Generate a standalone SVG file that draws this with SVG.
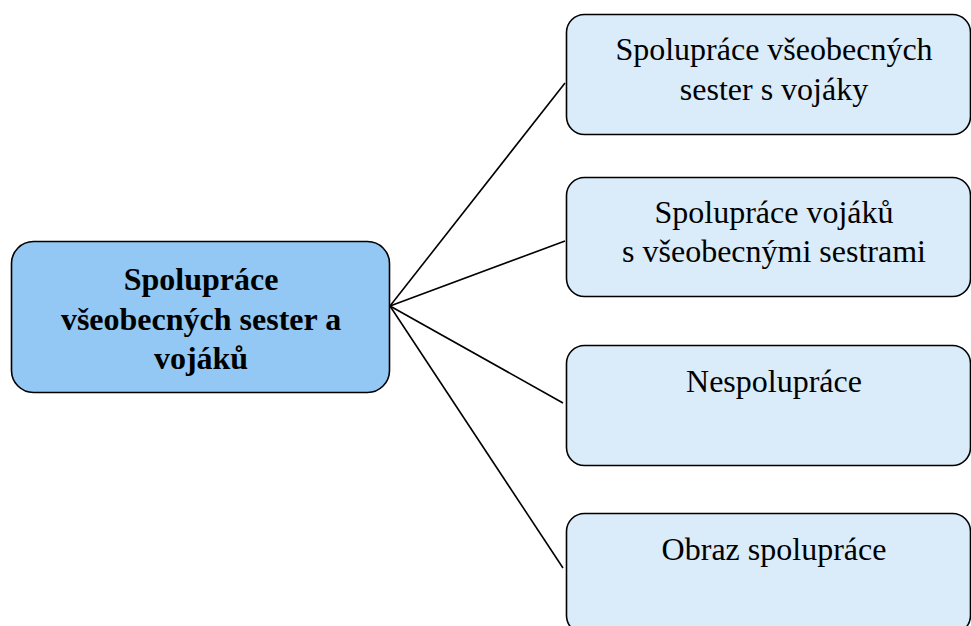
<svg xmlns="http://www.w3.org/2000/svg" width="971" height="626" viewBox="0 0 971 626">
<style>
.box{stroke:#000;stroke-width:1.6}
.main{fill:#92C8F3}
.sub{fill:#DAEBF9}
text{font-family:"Liberation Serif","Times New Roman",serif;font-size:32px;fill:#000;text-anchor:middle}
.b{font-weight:bold}
.con{stroke:#000;stroke-width:1.6;fill:none}
</style>
<rect width="971" height="626" fill="#fff"/>
<g id="connectors">
<line class="con" x1="390" y1="306" x2="565" y2="83"/>
<line class="con" x1="390" y1="306" x2="565" y2="241"/>
<line class="con" x1="390" y1="306" x2="563" y2="403"/>
<line class="con" x1="390" y1="306" x2="563" y2="568"/>
</g>
<g id="center">
<rect class="box main" x="11.5" y="241.5" width="378" height="151" rx="22"/>
<text class="b" x="201" y="290">Spolupráce</text>
<text class="b" x="201" y="330">všeobecných sester a</text>
<text class="b" x="201" y="369">vojáků</text>
</g>
<g id="n1">
<rect class="box sub" x="566.5" y="14.5" width="404" height="120" rx="18"/>
<text x="774" y="60">Spolupráce všeobecných</text>
<text x="774" y="100">sester s vojáky</text>
</g>
<g id="n2">
<rect class="box sub" x="566.5" y="177.5" width="404" height="119" rx="18"/>
<text x="774" y="223">Spolupráce vojáků</text>
<text x="774" y="262">s všeobecnými sestrami</text>
</g>
<g id="n3">
<rect class="box sub" x="566.5" y="345.5" width="404" height="120" rx="18"/>
<text x="774" y="392">Nespolupráce</text>
</g>
<g id="n4">
<rect class="box sub" x="566.5" y="513.5" width="404" height="120" rx="18"/>
<text x="774" y="560">Obraz spolupráce</text>
</g>
</svg>
